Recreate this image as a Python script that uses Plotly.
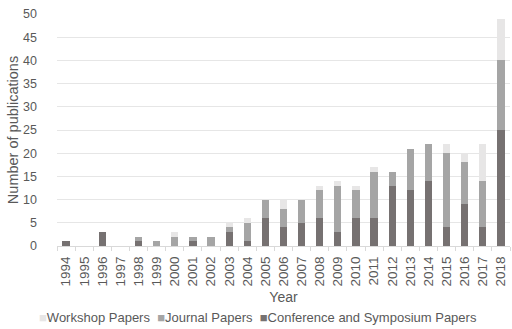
import plotly.graph_objects as go

years = [str(y) for y in range(1994, 2019)]
conference = [1, 0, 3, 0, 1, 0, 0, 1, 0, 3, 1, 6, 4, 5, 6, 3, 6, 6, 13, 12, 14, 4, 9, 4, 25]
journal =    [0, 0, 0, 0, 1, 1, 2, 1, 2, 1, 4, 4, 4, 5, 6, 10, 6, 10, 3, 9, 8, 16, 9, 10, 15]
workshop =   [0, 0, 0, 0, 0, 0, 1, 0, 0, 1, 1, 0, 2, 0, 1, 1, 1, 1, 0, 0, 0, 2, 2, 8, 9]
y_ticks = [0, 5, 10, 15, 20, 25, 30, 35, 40, 45, 50]

series = [
    ("Conference and Symposium Papers", conference, "#767171"),
    ("Journal Papers", journal, "#A5A5A5"),
    ("Workshop Papers", workshop, "#E7E6E6"),
]

fig = go.Figure()
for name, vals, col in series:
    fig.add_trace(go.Bar(x=years, y=vals, name=name, showlegend=False,
                         marker=dict(color=col, line=dict(width=0))))

# legend drawn as one text line with coloured square glyphs
legend_txt = "&nbsp;&nbsp;".join(
    f"<span style='color:{col}'>■</span>{name}" for name, vals, col in reversed(series)
)
fig.add_annotation(text=legend_txt, xref="paper", yref="paper", x=(258 - 57) / 453, y=0,
                   xanchor="center", yanchor="middle", showarrow=False,
                   yshift=-71, font=dict(size=13, color="#595959"))

font_family = "Liberation Sans, Arial, sans-serif"
fig.update_layout(
    barmode="stack",
    bargap=0.6,
    width=512, height=329,
    margin=dict(l=57, r=2, t=14, b=83, autoexpand=False),
    paper_bgcolor="white", plot_bgcolor="white",
    font=dict(family=font_family, size=13, color="#595959"),
    showlegend=False,
    xaxis=dict(type="category", tickangle=-90, showgrid=False, automargin=False,
               showline=True, linecolor="#D9D9D9", linewidth=1,
               ticks="outside", tickson="boundaries", ticklen=4, tickcolor="#D9D9D9",
               ticklabelstandoff=4,
               title=dict(text="Year", standoff=6, font=dict(size=14, color="#595959")),
               tickfont=dict(size=13.5)),
    yaxis=dict(range=[0, 50], tickvals=y_ticks, showgrid=True, gridcolor="#E6E6E6",
               zeroline=False, showline=False, ticks="", automargin=False,
               ticklabelstandoff=19,
               title=dict(text="Number of publications", standoff=1,
                          font=dict(size=14.5, color="#595959")),
               tickfont=dict(size=12.5)),
)

fig.write_html("out.html", config={"displayModeBar": False},
               post_script="document.body.style.margin='0';")
